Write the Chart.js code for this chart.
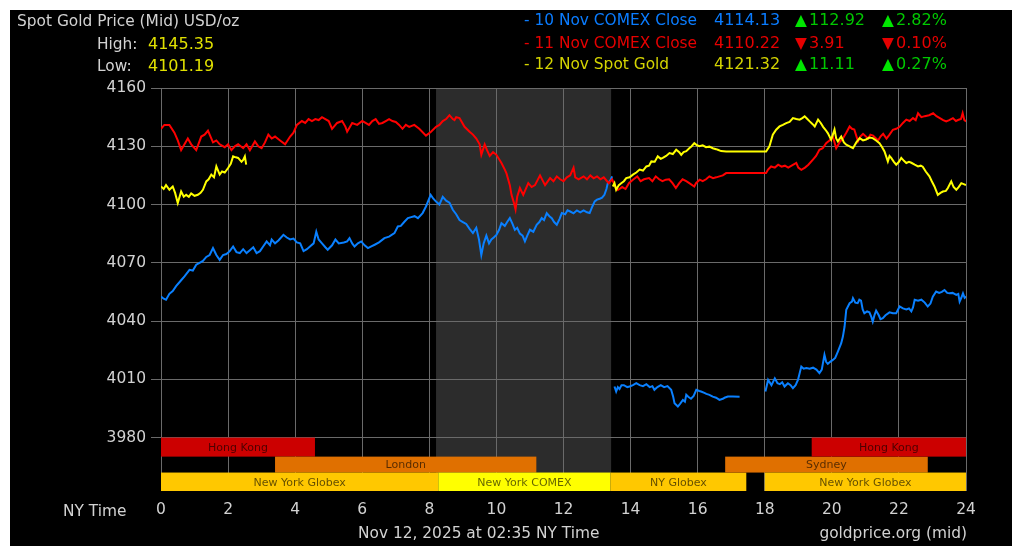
<!DOCTYPE html>
<html><head><meta charset="utf-8">
<script src="https://cdn.jsdelivr.net/npm/chart.js@4"></script>
<style>
html,body{margin:0;padding:0;background:#fff;width:1024px;height:555px;overflow:hidden;font-family:"DejaVu Sans",Verdana,sans-serif;}
#frame{position:absolute;left:10px;top:10px;width:1002px;height:536px;background:#000;}
#wrap{position:absolute;left:0;top:0;width:1024px;height:555px;}
.t{position:absolute;font-size:15.4px;line-height:18px;white-space:nowrap;}
.n{font-size:16px;}
</style></head><body>
<div id="frame"></div>
<div id="wrap"><canvas id="c" width="1024" height="555"></canvas></div>
<div id="texts"></div>
<script>
// ---------- DATA ----------
const chartTitle = 'Spot Gold Price (Mid) USD/oz';
const highLowLabels = ['High:', 'Low:'];
const highLowValues = ['4145.35', '4101.19'];
const legendNames = ['- 10 Nov COMEX Close', '- 11 Nov COMEX Close', '- 12 Nov Spot Gold'];
const legendPrices = ['4114.13', '4110.22', '4121.32'];
const legendChanges = ['112.92', '3.91', '11.11'];
const legendPercents = ['2.82%', '0.10%', '0.27%'];
const legendUp = [true, false, true];
const xAxisName = 'NY Time';
const footerDate = 'Nov 12, 2025 at 02:35 NY Time';
const footerSource = 'goldprice.org (mid)';

const hourTicks = [0, 2, 4, 6, 8, 10, 12, 14, 16, 18, 20, 22, 24];
const priceTicks = [3980, 4010, 4040, 4070, 4100, 4130, 4160];
const comexShade = [8.2, 13.42];

const sessionNames = ['Hong Kong', 'London', 'New York Globex', 'New York COMEX', 'NY Globex', 'Sydney', 'Hong Kong', 'New York Globex'];
const sessionStart = [0, 3.4, 0, 8.27, 13.4, 16.82, 19.4, 18.0];
const sessionEnd = [4.59, 11.19, 8.27, 13.4, 17.45, 22.86, 24, 24];
const sessionRow = [0, 1, 2, 2, 2, 1, 0, 2];

// [hour, price]
const nov10Comex = [
[0,4052.6],[0.08,4051.5],[0.15,4051],[0.25,4054],[0.35,4055.5],[0.45,4058],[0.6,4061],[0.7,4063],[0.85,4066.4],[0.95,4066],
[1.05,4069],[1.15,4070],[1.25,4071],[1.35,4073],[1.45,4074],[1.55,4077.6],[1.65,4074],[1.75,4071.5],[1.85,4074],[1.95,4074.5],
[2.05,4076],[2.15,4078.4],[2.25,4075.5],[2.35,4075],[2.45,4077],[2.55,4075],[2.65,4076.5],[2.75,4078],[2.85,4075],[2.95,4076],
[3.05,4078.5],[3.15,4081],[3.25,4079],[3.3,4082],[3.4,4080],[3.5,4081.5],[3.65,4084.4],[3.75,4083],[3.85,4082],[3.95,4082.5],
[4.05,4080.5],[4.15,4080],[4.25,4076],[4.35,4077],[4.45,4078.5],[4.55,4080],[4.63,4086],[4.7,4082],[4.8,4080],[4.9,4078],
[4.97,4076.7],[5.1,4079],[5.2,4082],[5.3,4080],[5.45,4080.5],[5.55,4081],[5.62,4082.7],[5.7,4080],[5.77,4078.4],[5.87,4080],
[5.97,4081],[6.07,4079],[6.17,4077.6],[6.27,4078.5],[6.37,4079.3],[6.5,4080.5],[6.66,4082.7],[6.8,4083.5],[6.96,4085.3],[7.06,4088.7],
[7.15,4089],[7.25,4091],[7.36,4093],[7.46,4093.5],[7.56,4094],[7.66,4093],[7.8,4095.6],[7.9,4099],[8.04,4105],[8.12,4103],
[8.2,4101.5],[8.3,4100],[8.4,4104],[8.5,4102],[8.6,4101],[8.7,4097.3],[8.8,4095],[8.9,4092],[9.0,4091],[9.1,4090],
[9.2,4087.5],[9.3,4085.3],[9.4,4088],[9.48,4082],[9.55,4074],[9.62,4080],[9.7,4084],[9.78,4080],[9.85,4082],[9.92,4083],
[10.0,4084.4],[10.08,4087],[10.15,4090.4],[10.25,4089],[10.32,4091],[10.4,4093],[10.48,4090],[10.55,4087],[10.62,4088],[10.7,4085],
[10.78,4084],[10.85,4081],[10.92,4084],[11.0,4087],[11.1,4086],[11.2,4089.6],[11.28,4091],[11.35,4093],[11.42,4092],[11.5,4095.6],
[11.58,4094],[11.65,4093],[11.72,4091],[11.8,4089.6],[11.88,4092.5],[11.95,4095.6],[12.05,4095],[12.12,4097],[12.2,4096.4],[12.3,4095.5],
[12.4,4097],[12.5,4096],[12.6,4097],[12.7,4096],[12.78,4095.6],[12.86,4099],[12.93,4101.6],[13.0,4102.5],[13.08,4103],[13.15,4103.5],
[13.22,4105],[13.28,4108],[13.32,4111],[13.4,4112.5],[13.45,4114.5],[13.48,null],
[13.52,4006.3],[13.57,4003.7],[13.62,4006],[13.67,4005],[13.73,4007],[13.8,4007],[13.9,4006],[13.97,4006.3],[14.07,4007],[14.17,4008],
[14.27,4007],[14.37,4006.5],[14.47,4007.5],[14.57,4006],[14.65,4006.5],[14.71,4004.6],[14.8,4006],[14.9,4007],[15.0,4006],[15.1,4006.5],
[15.21,4004.6],[15.27,4001],[15.31,3997.7],[15.41,3996],[15.48,3997.5],[15.56,3999.4],[15.62,3998.5],[15.66,4002],[15.72,4001],[15.8,4000],
[15.88,4001.5],[15.96,4004.6],[16.05,4004],[16.1,4003.7],[16.2,4003],[16.26,4002.5],[16.35,4002],[16.45,4001.1],[16.55,4000.5],[16.65,3999.4],
[16.75,4000],[16.8,4000.5],[16.9,4001.1],[17.05,4001.1],[17.25,4001],[17.6,null],
[18.02,4003.7],[18.1,4009.7],[18.2,4007],[18.3,4010.5],[18.38,4008],[18.45,4007.5],[18.52,4008.5],[18.59,4006.3],[18.69,4008],[18.77,4007],
[18.84,4005.4],[18.92,4007],[18.99,4009.7],[19.09,4016.6],[19.16,4015.5],[19.24,4015.8],[19.34,4015.5],[19.44,4016],[19.54,4015],[19.63,4013.2],
[19.7,4015],[19.78,4022.6],[19.83,4019],[19.88,4018],[19.95,4019],[20.03,4020],[20.1,4021],[20.18,4024.3],[20.28,4028.6],[20.33,4032],
[20.38,4037.2],[20.43,4045.8],[20.48,4047.5],[20.53,4049.2],[20.6,4050],[20.63,4051.8],[20.7,4049.5],[20.77,4049.2],[20.82,4051],[20.87,4050.5],
[20.92,4046],[20.97,4044],[21.05,4045],[21.12,4044.5],[21.18,4042],[21.22,4039.7],[21.27,4043],[21.32,4045.4],[21.4,4043],[21.45,4041],
[21.52,4041.5],[21.6,4043],[21.72,4044.5],[21.82,4044],[21.92,4044],[22.02,4047.5],[22.12,4046.5],[22.22,4046],[22.3,4046.5],[22.37,4045],
[22.42,4047],[22.47,4051],[22.57,4050.5],[22.67,4051],[22.77,4049.5],[22.86,4047.5],[22.94,4049],[23.01,4052.6],[23.11,4055.2],[23.2,4054.5],
[23.28,4055],[23.36,4056],[23.44,4054.5],[23.51,4054.3],[23.6,4054.5],[23.71,4053.5],[23.77,4054],[23.81,4050],[23.86,4052],[23.91,4054.3],
[23.96,4052],[24,4052.6]
];

const nov11Comex = [
[0,4139],[0.1,4141],[0.25,4141],[0.4,4137],[0.5,4133],[0.6,4128],[0.7,4131],[0.8,4134],[0.9,4131],[1.05,4128],
[1.2,4135],[1.3,4136],[1.4,4138],[1.55,4132],[1.65,4133],[1.75,4131],[1.9,4129.5],[2.0,4131],[2.1,4128],[2.2,4130],
[2.3,4131],[2.45,4129],[2.55,4131],[2.65,4128],[2.8,4132.5],[2.9,4130],[3.0,4129],[3.1,4132],[3.2,4136],[3.3,4134],
[3.4,4135],[3.55,4133],[3.7,4131],[3.85,4135],[3.95,4137],[4.05,4141],[4.2,4143],[4.3,4142],[4.4,4144],[4.5,4143],
[4.6,4144],[4.7,4143.5],[4.8,4145],[4.9,4144],[5.0,4143],[5.1,4139],[5.25,4142],[5.4,4143],[5.5,4140],[5.55,4137.5],
[5.7,4142],[5.85,4141],[6.0,4143],[6.1,4142],[6.2,4141],[6.3,4143],[6.4,4144],[6.5,4141.5],[6.6,4142],[6.7,4143],
[6.8,4144],[6.9,4143],[7.0,4142.5],[7.1,4141],[7.2,4139],[7.3,4141],[7.4,4140],[7.55,4141],[7.7,4139],[7.9,4135.5],
[8.05,4137.5],[8.2,4140],[8.3,4141],[8.4,4143],[8.5,4144],[8.6,4146],[8.7,4144],[8.75,4143.5],[8.8,4145],[8.9,4144.5],
[9.05,4140],[9.2,4137.5],[9.3,4136],[9.4,4134],[9.5,4131],[9.55,4125.6],[9.65,4131],[9.72,4128],[9.8,4125],[9.9,4127],
[10.0,4125.6],[10.15,4121.4],[10.25,4118],[10.3,4116],[10.4,4110],[10.45,4105],[10.52,4101],[10.57,4097.5],[10.62,4104],[10.7,4108.5],
[10.8,4105],[10.95,4111],[11.05,4109],[11.15,4110],[11.3,4115],[11.45,4110],[11.6,4113.6],[11.7,4112],[11.8,4114.5],[11.9,4113],
[12.0,4112],[12.1,4114],[12.2,4115],[12.3,4119],[12.35,4114],[12.45,4113],[12.6,4114.5],[12.7,4113],[12.8,4115],[12.9,4113.5],
[13.0,4114.5],[13.1,4113],[13.2,4114],[13.35,4111],[13.45,4113],[13.55,4109],[13.62,4107.5],[13.75,4109],[13.85,4108],[13.95,4111],
[14.07,4112.8],[14.2,4114.5],[14.3,4112],[14.4,4113],[14.55,4113.6],[14.65,4112],[14.75,4114.5],[14.85,4113],[14.95,4112],[15.05,4112.8],
[15.15,4113],[15.25,4111],[15.35,4108.5],[15.45,4111],[15.55,4113],[15.66,4112],[15.75,4111],[15.9,4109.3],[15.95,4111],[16.06,4112.8],
[16.15,4112],[16.25,4113],[16.35,4114.5],[16.46,4113.6],[16.55,4114],[16.65,4114.5],[16.75,4115],[16.85,4116.2],[17.0,4116.2],[17.25,4116.2],
[17.6,4116.2],[18.04,4116.2],[18.1,4118],[18.19,4119.6],[18.3,4119],[18.4,4120.5],[18.5,4119.5],[18.6,4120],[18.7,4119],[18.8,4120],
[18.94,4121.4],[19.0,4119],[19.09,4117.9],[19.2,4119],[19.3,4120.5],[19.43,4123],[19.53,4125],[19.63,4128.2],[19.73,4129],[19.83,4131.6],
[19.93,4133],[20.03,4135],[20.13,4129],[20.23,4132],[20.33,4134],[20.43,4137],[20.53,4140.2],[20.6,4139],[20.67,4138.6],[20.78,4132.5],
[20.85,4135],[20.93,4136.4],[21.08,4134],[21.15,4136],[21.23,4135.5],[21.38,4133],[21.45,4135],[21.53,4136.4],[21.63,4134],[21.72,4136],
[21.82,4138.5],[21.92,4139],[22.02,4140],[22.12,4142],[22.22,4143.7],[22.32,4143],[22.42,4144.5],[22.5,4143.5],[22.57,4147],[22.67,4145],
[22.77,4145.5],[22.9,4146],[23.02,4147],[23.12,4145.5],[23.22,4144.5],[23.32,4143.5],[23.41,4142.8],[23.5,4143.5],[23.61,4144.5],[23.7,4143],
[23.76,4143.5],[23.85,4144],[23.9,4147],[23.95,4143.5],[24,4142.8]
];

const nov12Spot = [
[0,4109.3],[0.08,4108],[0.15,4110],[0.25,4107.6],[0.35,4109.3],[0.42,4106],[0.5,4100.8],[0.6,4106.7],[0.68,4104],[0.75,4105],
[0.83,4104],[0.9,4105.7],[1.0,4104.5],[1.1,4105],[1.18,4106],[1.25,4107.6],[1.35,4111.9],[1.42,4113],[1.5,4115.4],[1.58,4114],
[1.65,4119.6],[1.75,4115.4],[1.82,4117],[1.9,4116.5],[2.0,4118.8],[2.08,4121],[2.15,4124.8],[2.23,4124.3],[2.3,4124],[2.4,4122],
[2.45,4123],[2.5,4124.8],[2.54,4120.5],[2.6,null],
[13.47,4109.3],[13.52,4111],[13.57,4107.6],[13.65,4110],[13.72,4111],[13.8,4112],[13.87,4113.6],[13.97,4114],[14.07,4115.4],[14.17,4116.5],
[14.27,4118],[14.37,4117.5],[14.47,4119.6],[14.55,4120],[14.62,4122.2],[14.72,4122],[14.81,4124.8],[14.9,4123.5],[14.96,4124],[15.06,4125],
[15.16,4126.5],[15.26,4126],[15.36,4128.2],[15.45,4127],[15.51,4125.6],[15.58,4127],[15.66,4127.5],[15.75,4129],[15.82,4130],[15.9,4131.6],
[15.98,4130.5],[16.05,4130],[16.15,4130.5],[16.25,4129.5],[16.35,4129.8],[16.45,4129],[16.55,4128.5],[16.6,4128.2],[16.7,4127.5],[16.85,4127.3],
[17.2,4127.3],[17.6,4127.3],[18.04,4127.3],[18.14,4130],[18.24,4136],[18.34,4138.5],[18.44,4140.2],[18.54,4141],[18.64,4141.9],[18.74,4142.5],
[18.84,4144.5],[18.94,4144],[19.04,4143.7],[19.12,4144.5],[19.19,4145.4],[19.27,4144],[19.34,4142.8],[19.42,4141.5],[19.49,4140.2],[19.59,4143.7],
[19.67,4142],[19.74,4140],[19.81,4138.5],[19.88,4136.8],[19.98,4133.4],[20.08,4138.6],[20.13,4134],[20.18,4132.5],[20.28,4135],[20.36,4132],
[20.43,4130.8],[20.53,4130],[20.63,4129],[20.73,4132],[20.83,4134.2],[20.93,4133],[21.02,4133.5],[21.12,4134.5],[21.22,4134.2],[21.32,4133],
[21.42,4131.6],[21.5,4129.5],[21.57,4127.3],[21.67,4122.2],[21.72,4125],[21.77,4124],[21.85,4122],[21.92,4120.5],[22.0,4122],[22.07,4124],
[22.15,4122.5],[22.22,4121.4],[22.3,4122],[22.37,4121.5],[22.47,4120.5],[22.57,4119.6],[22.65,4120],[22.71,4119.5],[22.8,4117],[22.91,4114.5],
[22.98,4112],[23.06,4109.3],[23.16,4105],[23.24,4106],[23.31,4106.7],[23.4,4107],[23.46,4108.5],[23.56,4111.9],[23.63,4109],[23.71,4107.6],
[23.78,4109],[23.86,4111],[23.93,4110.5],[24,4110]
];

// ---------- STYLES ----------
const FONT = '"DejaVu Sans", Verdana, sans-serif';
const seriesColors = ['#0a80ff', '#ff0000', '#ffff00'];
const legendTextColors = ['#0a7cff', '#e60000', '#d4d400'];
const upColor = '#00c800', upArrow = '#00e600', downColor = '#e60000';
const labelGrey = '#d2d2d2';
const gridColor = '#6a6a6a';

// ---------- HTML TEXTS ----------
const texts = document.getElementById('texts');
function addText(str, left, top, color, right, num) {
  const d = document.createElement('div');
  d.className = num ? 't n' : 't';
  d.textContent = str;
  d.style.top = top + 'px';
  d.style.color = color;
  if (right) { d.style.right = (1024 - left) + 'px'; } else { d.style.left = left + 'px'; }
  texts.appendChild(d);
}
addText(chartTitle, 17, 12, labelGrey);
const hlTop = [35, 57];
highLowLabels.forEach((l, i) => {
  addText(l, 97, hlTop[i], labelGrey);
  addText(highLowValues[i], 148, hlTop[i], '#e0e000', false, true);
});
const lgTop = [11, 34, 55];
legendNames.forEach((n, i) => {
  const t = lgTop[i];
  addText(n, 524, t, legendTextColors[i]);
  addText(legendPrices[i], 714, t, legendTextColors[i], false, true);
  const arrow = legendUp[i] ? '\u25B2' : '\u25BC';
  const ac = legendUp[i] ? upArrow : downColor;
  const tc = legendUp[i] ? upColor : downColor;
  addText(arrow, 795, t, ac);
  addText(legendChanges[i], 809, t, tc, false, true);
  addText(arrow, 882, t, ac);
  addText(legendPercents[i], 896, t, tc, false, true);
});
addText(xAxisName, 63, 502, labelGrey);
addText(footerDate, 358, 524, labelGrey);
addText(footerSource, 967, 524, labelGrey, true);

// ---------- PLUGINS ----------
const sessionColors = {
  'Hong Kong': '#cc0000', 'London': '#e07000', 'Sydney': '#e07000',
  'New York Globex': '#ffc800', 'NY Globex': '#ffc800', 'New York COMEX': '#ffff00'
};
const shadePlugin = {
  id: 'shade',
  beforeDraw(chart) {
    const { ctx, chartArea: a, scales: { x } } = chart;
    const x0 = x.getPixelForValue(comexShade[0]), x1 = x.getPixelForValue(comexShade[1]);
    ctx.save();
    ctx.fillStyle = '#2c2c2c';
    ctx.fillRect(x0, a.top, x1 - x0, a.bottom - a.top);
    ctx.restore();
  }
};
const sessionPlugin = {
  id: 'sessions',
  beforeDatasetsDraw(chart) {
    const { ctx, scales: { x, y } } = chart;
    const rowEdges = [3980, 3970.2, 3962, y.min];
    ctx.save();
    ctx.font = '11px ' + FONT;
    ctx.textAlign = 'center';
    ctx.textBaseline = 'middle';
    sessionNames.forEach((name, i) => {
      const r = sessionRow[i];
      const top = y.getPixelForValue(rowEdges[r]);
      const bot = y.getPixelForValue(rowEdges[r + 1]);
      const x0 = x.getPixelForValue(sessionStart[i]);
      const x1 = x.getPixelForValue(sessionEnd[i]);
      ctx.fillStyle = sessionColors[name];
      ctx.fillRect(x0, top, x1 - x0, bot - top);
      ctx.fillStyle = 'rgba(0,0,0,0.62)';
      ctx.fillText(name, (x0 + x1) / 2, (top + bot) / 2 + 1);
    });
    ctx.restore();
  }
};

// ---------- CHART ----------
const toPts = arr => arr.map(p => ({ x: p[0], y: p[1] }));
new Chart(document.getElementById('c'), {
  type: 'line',
  data: {
    datasets: [
      { label: '12 Nov Spot Gold', data: toPts(nov12Spot), borderColor: seriesColors[2], order: 1 },
      { label: '11 Nov COMEX Close', data: toPts(nov11Comex), borderColor: seriesColors[1], order: 2 },
      { label: '10 Nov COMEX Close', data: toPts(nov10Comex), borderColor: seriesColors[0], order: 3 }
    ]
  },
  options: {
    responsive: false,
    animation: false,
    spanGaps: false,
    elements: { point: { radius: 0 }, line: { borderWidth: 2, tension: 0 } },
    layout: { padding: { left: 0, right: 58, top: 88, bottom: 24 } },
    plugins: { legend: { display: false }, tooltip: { enabled: false } },
    scales: {
      x: {
        type: 'linear', min: 0, max: 24,
        afterBuildTicks: s => { s.ticks = hourTicks.map(v => ({ value: v })); },
        afterFit: s => { s.height = 40; },
        grid: { color: gridColor, drawTicks: false },
        border: { display: false },
        ticks: { color: labelGrey, font: { family: FONT, size: 15.5 }, padding: 10, maxRotation: 0, callback: v => String(v) }
      },
      y: {
        type: 'linear', min: 3952.5, max: 4160,
        afterBuildTicks: s => { s.ticks = priceTicks.map(v => ({ value: v })); },
        afterFit: s => { s.width = 161; },
        grid: { color: gridColor, tickLength: 10 },
        border: { display: false },
        ticks: { color: labelGrey, font: { family: FONT, size: 15.5 }, padding: 5, callback: v => String(v) }
      }
    }
  },
  plugins: [shadePlugin, sessionPlugin]
});
</script>
</body></html>
